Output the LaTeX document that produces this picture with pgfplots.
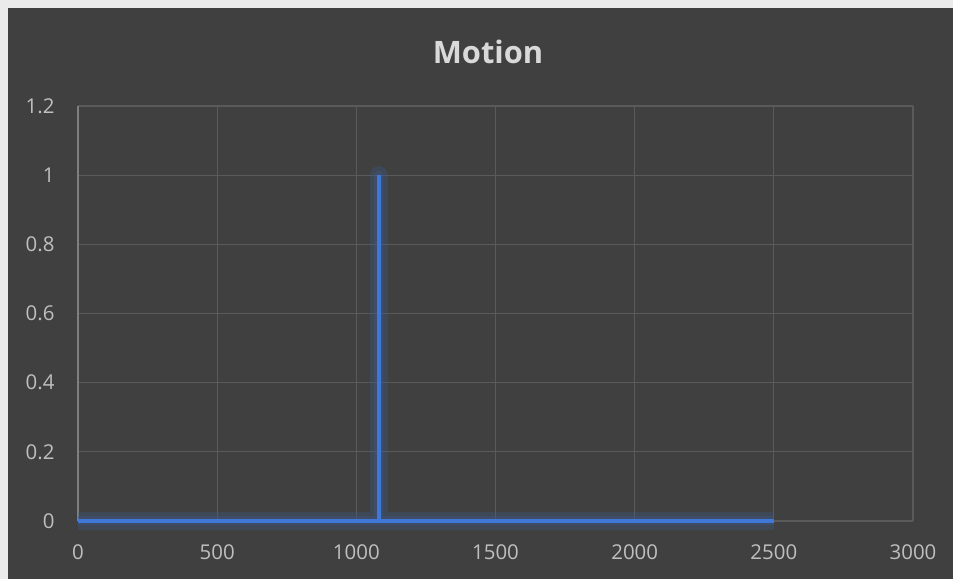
\documentclass[border=0pt]{standalone}
\usepackage{pgfplots}
\pgfplotsset{compat=1.18}
\usepackage{fontspec}
\setmainfont{Open Sans}
\definecolor{bg}{HTML}{404040}
\definecolor{gridc}{HTML}{5A5A5A}
\definecolor{axc}{HTML}{7F7F7F}
\definecolor{txt}{HTML}{BFBFBF}
\definecolor{ttl}{HTML}{D9D9D9}
\definecolor{ln}{HTML}{3F78D8}
\begin{document}
\begin{tikzpicture}[x=1bp,y=1bp]
\useasboundingbox (0,0) rectangle (953,579);
\fill[white!92!black] (0,0) rectangle (953,579);
\fill[bg] (8,0) rectangle (953,571);
\node[text=ttl,font=\fontsize{31}{36}\selectfont\bfseries] at (488,527) {Motion};
\begin{axis}[
  at={(78bp,58bp)}, anchor=south west,
  scale only axis, width=835bp, height=415bp,
  xmin=0, xmax=3000, ymin=0, ymax=1.2,
  xtick={0,500,...,3000}, ytick={0,0.2,...,1.2},
  yticklabels={0,0.2,0.4,0.6,0.8,1,1.2},
  xticklabels={0,500,1000,1500,2000,2500,3000},
  grid=major, major grid style={gridc, line width=1.2bp},
  axis line style={draw=none},
  tick style={draw=none},
  ticklabel style={text=txt, font=\fontsize{20.5}{24}\selectfont},
  xticklabel style={yshift=-20bp},
  yticklabel style={xshift=-20bp},
  clip=false,
]
\draw[axc, line width=1.4bp] (axis cs:0,0) -- (axis cs:0,1.2);
\addplot[ln!50!bg, opacity=0.3, line width=18bp, line join=round] coordinates {(0,0) (1080,0) (1080,1) (1080,0) (2500,0)};
\addplot[ln!50!bg, opacity=0.35, line width=9bp, line join=round] coordinates {(0,0) (1080,0) (1080,1) (1080,0) (2500,0)};
\addplot[ln, line width=4bp, line join=miter] coordinates {(0,0) (1080,0) (1080,1) (1080,0) (2500,0)};
\end{axis}
\end{tikzpicture}
\end{document}
